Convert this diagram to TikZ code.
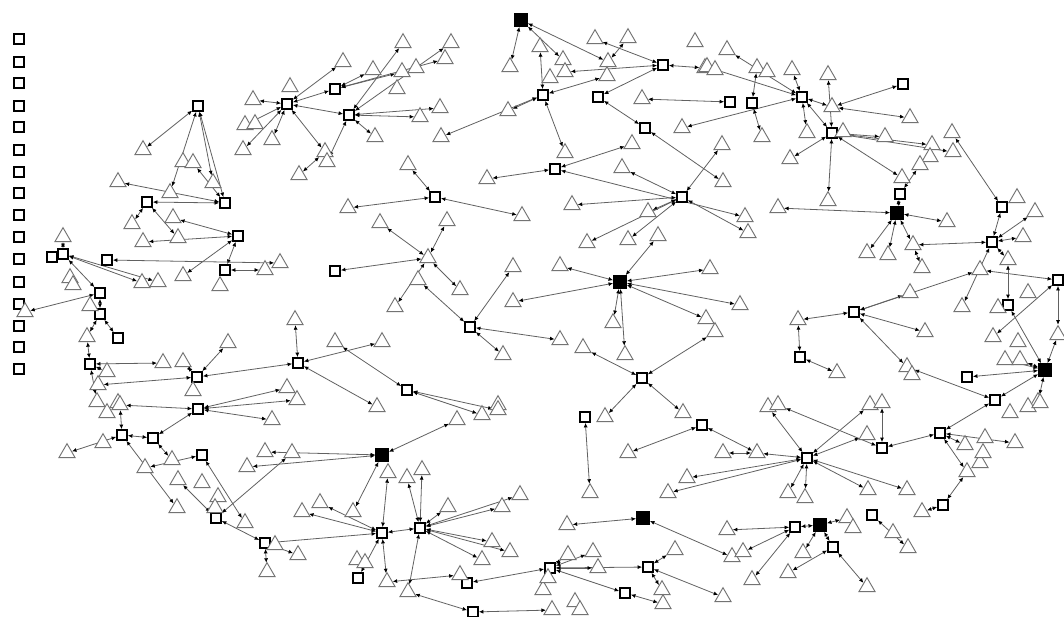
\documentclass[tikz,border=0pt]{standalone}
\usetikzlibrary{shapes.geometric,arrows.meta}
\pgfdeclarelayer{back}
\pgfsetlayers{back,main}
\tikzset{
  tri/.style={regular polygon, regular polygon sides=3, draw=black!55, line width=0.7pt, fill=white, inner sep=0pt, minimum size=14pt},
  sq/.style={rectangle, draw=black, line width=1.6pt, fill=white, inner sep=0pt, minimum size=7.2pt},
  bsq/.style={rectangle, draw=black, fill=black, inner sep=0pt, minimum size=10pt},
  link/.style={draw=black!62, line width=0.6pt, arrows={Latex[length=3.4pt,width=3pt,color=black]-Latex[length=3.4pt,width=3pt,color=black]}}
}
\begin{document}
\begin{tikzpicture}[x=0.75pt,y=-0.75pt]
\useasboundingbox (0,0) rectangle (1064,617);
% isolated squares column
\foreach \y in {39,62,83,106,127,150,172,193,215,237,259,282,304,326,347,369}
  \node[sq] (c\y) at (19,\y) {};
% open squares
\foreach \x/\y in {198/106, 147/202, 225/203, 238/236, 225/270, 107/260, 63/254, 52/257, 100/293, 100/314, 118/338, 90/364, 197/377, 298/363, 335/271, 287/104, 335/89, 349/115, 543/95, 598/97, 663/65, 645/128, 555/169, 435/197, 682/197, 730/102, 752/103, 802/97, 903/84, 832/133, 900/194, 1002/207, 992/242, 1058/280, 1008/305, 854/312, 800/357, 967/377, 995/400, 470/327, 642/378, 407/390, 198/409, 122/435, 153/438, 202/455, 216/518, 265/543, 358/578, 382/533, 420/528, 467/583, 473/612, 550/568, 648/567, 625/593, 585/417, 702/425, 807/458, 882/448, 940/433, 795/527, 833/547, 872/515, 943/505}
  \node[sq] (s\x y\y) at (\x,\y) {};
% black squares
\foreach \x/\y in {521/20, 620/282, 897/213, 1045/370, 382/455, 643/518, 820/525}
  \node[bsq] (b\x y\y) at (\x,\y) {};
% triangles
\foreach \x/\y in {143/150, 183/162, 193/163, 213/183, 170/193, 118/182,
132/224, 173/218, 178/238, 143/242, 183/276, 220/286, 265/270, 280/263, 142/283, 158/282, 70/278, 73/285, 63/237, 90/306, 25/312, 87/337, 107/372, 98/385, 97/402, 118/403, 163/363, 183/362, 193/391, 228/343, 295/320, 335/342, 287/388, 297/400, 348/208,
253/100, 290/87, 245/125, 255/124, 243/150, 272/140, 343/62, 325/152, 327/162, 299/175,
403/43, 451/43, 373/70, 402/72, 416/68, 445/59, 397/89, 440/108, 420/117, 375/137, 441/137, 408/165, 487/179, 508/111, 510/67, 540/47, 563/60, 550/78, 565/72, 565/153, 595/39, 628/38, 608/62, 607/76, 695/42, 705/68, 642/99, 682/128, 632/144, 622/168, 572/205,
727/50, 707/67, 715/70, 757/68, 767/72, 792/70, 828/75, 832/107, 807/133, 843/132, 885/137, 910/118, 952/133, 932/145, 953/152, 930/157, 920/165, 902/178, 790/159, 762/137, 722/145, 723/182, 828/201, 1017/198,
380/223, 447/221, 522/216, 428/258, 418/280, 460/290, 395/307, 513/267, 513/302, 382/342, 560/340, 503/355, 648/212, 587/243, 628/240, 658/236, 560/266, 710/269, 613/323, 625/355, 706/319, 583/348, 498/405, 377/407,
778/208, 947/222, 867/253, 888/255, 913/245, 922/268, 1035/212, 1023/237, 1008/260, 980/270, 1028/293, 962/307, 998/308, 910/293, 740/305, 715/332, 798/320, 837/373, 925/332, 993/337, 1018/342, 1058/335, 907/367, 912/375, 1005/360, 1020/360, 1038/402, 748/233, 745/217,
107/413, 120/405, 272/420, 103/443, 67/453, 172/460, 145/468, 178/480, 202/483, 218/497, 215/508, 177/508, 245/523, 275/545, 298/555, 267/572, 265/452, 292/453, 247/467, 302/512, 320/503, 353/512, 357/560, 365/563,
482/415, 498/410, 605/417, 683/413, 457/420, 628/453, 687/478, 668/493, 388/473, 407/478, 422/470, 448/507, 502/507, 520/495, 492/542, 510/552, 482/560, 590/493, 567/525, 387/582, 408/592, 460/575, 568/555, 593/552, 598/568, 543/590, 548/578, 675/550, 662/590, 663/604, 575/602, 580/610, 552/610,
768/407, 778/405, 870/405, 882/403, 867/435, 757/453, 723/453, 788/493, 805/498, 868/490, 907/490, 727/530, 732/557, 743/552, 752/580, 788/573, 803/553, 847/518, 853/528, 893/533, 908/548, 867/587, 723/597, 922/512, 965/445, 967/472, 980/463, 985/438, 983/453, 1015/443, 1010/413, 1028/407, 1040/403}
  \node[tri] (t\x y\y) at (\x,\y) {};
\begin{pgfonlayer}{back}
\fill[white] (0,0) rectangle (1064,617);
\foreach \a/\b in {
s198y106/t143y150, s198y106/t170y193, s198y106/t213y183, s198y106/s225y203, t193y163/s225y203, s225y203/t118y182, s225y203/s147y202, s147y202/t132y224, s147y202/t178y238, s238y236/t173y218, s238y236/t143y242, s238y236/t183y276, s238y236/s225y270, s225y270/t265y270, t280y263/s107y260, s63y254/t63y237, s63y254/t142y283, s63y254/t158y282, s63y254/s100y293, s100y293/t25y312, s100y293/s100y314, s100y314/t87y337, s100y314/s118y338, t87y337/s90y364, s90y364/t163y363, s90y364/t107y372, s90y364/t97y402, t98y385/s197y377, s197y377/t183y362, s197y377/t228y343, s197y377/s298y363, s298y363/t295y320, s298y363/t382y342, s298y363/t377y407, t335y342/s407y390, s407y390/t482y415, s407y390/t498y410, s198y409/t287y388, s198y409/t297y400, s198y409/t120y405, s198y409/t272y420, s198y409/s153y438, s153y438/t172y460, s122y435/s153y438, s122y435/t67y453, s122y435/t120y405, s122y435/t177y508, s202y455/t145y468, s202y455/t245y523, t178y480/s216y518, s216y518/s265y543, s216y518/t292y453, s265y543/t298y555, s265y543/t267y572, s265y543/s382y533, b382y455/t265y452, b382y455/t247y467, b382y455/t457y420, b382y455/t353y512, s382y533/t302y512, s382y533/t320y503, s382y533/t388y473, s382y533/s420y528, s382y533/s358y578, s382y533/t387y582, s420y528/t422y470, s420y528/t407y478, s420y528/t448y507, s420y528/t502y507, s420y528/t520y495, s420y528/t492y542, s420y528/t510y552, s420y528/t482y560, s420y528/t408y592, t387y582/t460y575, t408y592/s473y612, s550y568/s467y583, s550y568/s648y567, s550y568/t598y568, s550y568/s625y593, s550y568/t568y555, s550y568/t593y552, s550y568/t543y590, t552y610/s473y612, s585y417/t590y493, s702y425/t628y453, b643y518/t567y525, b643y518/t732y557, s648y567/t675y550, s648y567/t723y597, s648y567/t662y590, s625y593/t663y604,
s807y458/t768y407, s807y458/t870y405, s807y458/t867y435, s807y458/t788y493, s807y458/t805y498, s807y458/t868y490, s807y458/t907y490, s807y458/t687y478, s807y458/t668y493, s807y458/t757y453, s702y425/t757y453, t757y453/t723y453, s882y448/t882y403, s882y448/t778y405, s882y448/s940y433, s940y433/t965y445, s940y433/t1015y443, s940y433/s995y400, s940y433/t967y472, t967y472/s943y505, s943y505/t922y512, b820y525/s795y527, b820y525/t803y553, b820y525/t847y518, b820y525/s833y547, s795y527/t727y530, s795y527/t743y552, s795y527/t752y580, s833y547/t788y573, s833y547/t867y587, s872y515/t908y548,
b897y213/t778y208, b897y213/t947y222, b897y213/t867y253, b897y213/t888y255, b897y213/t913y245, b897y213/s900y194, t913y245/s992y242, t913y245/t922y268, s992y242/t1035y212, s992y242/s1002y207, s992y242/t1023y237, s992y242/t962y307, s992y242/t1008y260, t1008y260/s1008y305, s1008y305/b1045y370, s1058y280/t980y270, s1058y280/t1058y335, t1058y335/b1045y370, s1058y280/t993y337, s854y312/t798y320, s854y312/t910y293, s854y312/t980y270, s854y312/t925y332, s854y312/t907y367, t798y320/s800y357, s800y357/t837y373, b1045y370/s967y377, b1045y370/t1038y402, b1045y370/t1005y360, b1045y370/t1020y360, b1045y370/s995y400, t907y367/s995y400,
s802y97/t727y50, s802y97/t707y67, s802y97/t792y70, s802y97/t807y133, s802y97/t832y107, s802y97/t682y128, s802y97/s832y133, s730y102/t642y99, s752y103/t757y68, s752y103/t762y137, s903y84/t832y107, t832y107/t910y118, s832y133/t828y75, s832y133/t790y159, s832y133/t885y137, s832y133/t932y145, s832y133/t902y178, s832y133/t828y201, s832y133/t953y152, t952y133/s1002y207, t920y165/s900y194, s682y197/t722y145, s645y128/t723y182, s682y197/t748y233, s555y169/t745y217,
b521y20/t510y67, b521y20/t608y62, b521y20/t563y60, s543y95/t540y47, s543y95/t508y111, s543y95/t441y137, s543y95/t607y76, s543y95/t565y153, s663y65/t595y39, s663y65/s598y97, s663y65/t705y68, s663y65/t565y72, t628y38/t608y62, s598y97/s645y128, s555y169/t487y179, s555y169/t632y144, s435y197/t408y165, s435y197/t348y208, s435y197/t522y216, s682y197/t572y205, s682y197/t622y168, s682y197/t648y212, s682y197/t587y243, s682y197/t628y240, b620y282/t560y266, b620y282/t513y302, b620y282/t658y236, b620y282/t710y269, b620y282/t706y319, b620y282/t613y323, b620y282/t625y355, b620y282/t740y305, s642y378/t583y348, s642y378/t715y332, s642y378/t605y417, s642y378/t683y413, s470y327/t418y280, s470y327/t513y267, s470y327/t560y340, s470y327/t503y355, t428y258/t380y223, t428y258/t447y221, t428y258/t460y290, t428y258/t395y307, t428y258/s335y271,
s287y104/t253y100, s287y104/t245y125, s287y104/t243y150, s287y104/t343y62, s287y104/t325y152, s287y104/s335y89, s287y104/s349y115, s287y104/t272y140, s349y115/t327y162, s335y89/t373y70, s335y89/t402y72, s335y89/t445y59, s349y115/t403y43, s349y115/t451y43, s349y115/t440y108, s349y115/t420y117, s349y115/t375y137, t325y152/t299y175}
  \draw[link] (\a) -- (\b);
\end{pgfonlayer}
\end{tikzpicture}
\end{document}
